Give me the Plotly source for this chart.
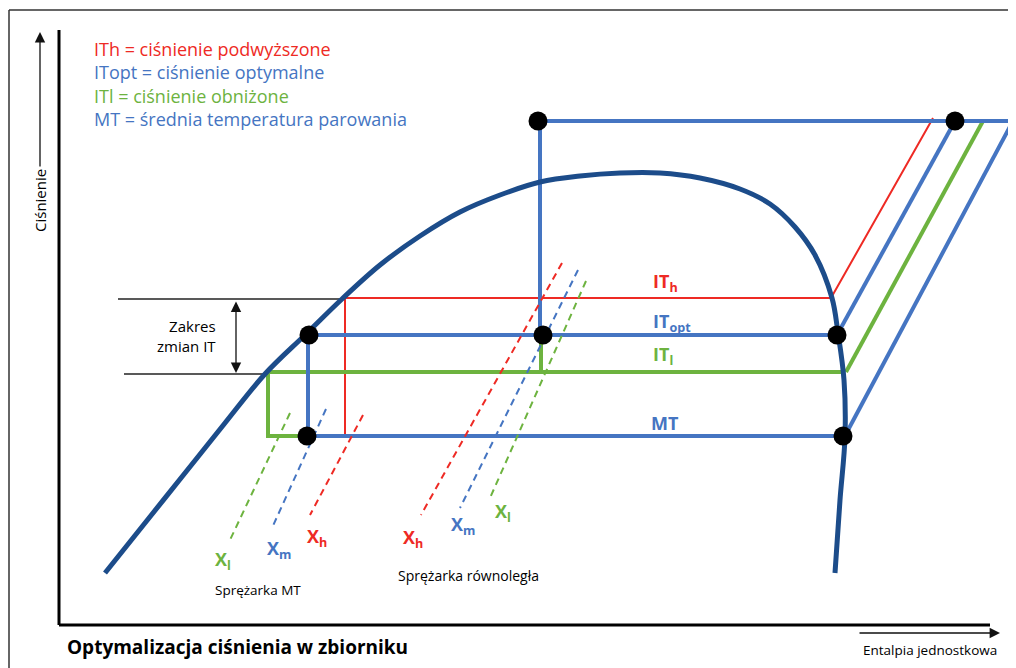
import plotly.graph_objects as go

# Schematic p-h diagram, unitless: enthalpy h (left -> right), pressure p (bottom -> top)

# saturation dome
dome_h = [105, 145, 185, 225, 265, 305, 342, 380, 420, 460, 500, 540, 580, 620, 660, 700, 740, 770, 795, 815, 832, 838, 844, 845, 840, 835]
dome_p = [95, 145, 195, 245, 294, 333, 369, 403, 432, 456, 473, 486, 492, 495, 495, 490, 479, 464, 441, 413, 370, 335, 288, 231, 168, 95]

# pressure levels
p_high = 547
p_ith = 370
p_itopt = 333
p_itl = 296
p_mt = 232

# enthalpy points of each level (left dome side, right dome side, end at p_high)
ith_h = [344, 831, 933]
itopt_h = [309, 837, 955]
itl_h = [266, 845, 983]
mt_h = [307, 844, 1013]
h_valve = 540          # vertical expansion line to the receiver
h_ith_drop = 345       # red vertical drop
h_itl_drop = 268       # green vertical drop

# state points (black dots)
dot_h = [538, 955, 309, 543, 837, 307, 843]
dot_p = [p_high, p_high, p_itopt, p_itopt, p_itopt, p_mt, p_mt]

# compressor dashed lines: (top, bottom)
mt_comp_h = {"l": [290, 230], "m": [326, 272], "h": [363, 310]}
mt_comp_p = {"l": [255, 128], "m": [259, 140], "h": [253, 153]}
par_comp_h = {"h": [562, 421], "m": [578, 460], "l": [586, 490]}
par_comp_p = {"h": [405, 153], "m": [398, 160], "l": [387, 170]}

# label positions for the compressor lines
mt_lab_h = {"l": 223, "m": 279, "h": 317}
mt_lab_p = {"l": 108, "m": 119, "h": 131}
par_lab_h = {"h": 413, "m": 463, "l": 503}
par_lab_p = {"h": 130, "m": 143, "l": 156}

legend_lines = [
    ("ITh = ciśnienie podwyższone", "red"),
    ("ITopt = ciśnienie optymalne", "blue"),
    ("ITl = ciśnienie obniżone", "green"),
    ("MT = średnia temperatura parowania", "blue"),
]

RED = "#ee2a24"
BLUE = "#4575c2"
GREEN = "#6db33f"
NAVY = "#1c4c8a"
col = {"red": RED, "blue": BLUE, "green": GREEN}
sub_col = {"h": RED, "m": BLUE, "l": GREEN}
FONT = "Open Sans"

fig = go.Figure()


def line(h, p, color, width, dash="solid", shape="linear"):
    fig.add_trace(go.Scatter(x=h, y=p, mode="lines", hoverinfo="skip",
                             line=dict(color=color, width=width, dash=dash, shape=shape)))


# helper black lines for "Zakres zmian IT"
line([118, ith_h[0]], [p_ith - 1, p_ith - 1], "#222", 1.3)
line([124, itl_h[0]], [p_itl - 2, p_itl - 2], "#222", 1.3)

# IT_h (red, thin)
line([h_ith_drop, h_ith_drop, ith_h[1], ith_h[2]], [p_mt - 1, p_ith, p_ith, p_high + 3], RED, 2)
line([ith_h[0], h_ith_drop], [p_ith, p_ith], RED, 2)

# IT_l (green)
line([mt_h[0], h_itl_drop, h_itl_drop, itl_h[1]], [p_mt, p_mt, p_itl, p_itl], GREEN, 4)
line([itl_h[1] + 1, itl_h[2]], [p_itl, p_high], GREEN, 4)
line([h_valve + 1, h_valve + 1], [p_itopt, p_itl], GREEN, 4)

# IT_opt and MT (blue)
line([itopt_h[0], itopt_h[1]], [p_itopt, p_itopt], BLUE, 4)
line([itopt_h[0] - 1, itopt_h[0] - 1], [p_itopt, p_mt], BLUE, 4)
line([itopt_h[1], itopt_h[2]], [p_itopt, p_high], BLUE, 4)
line([mt_h[0], mt_h[1]], [p_mt, p_mt], BLUE, 4)
line([mt_h[1] + 3, mt_h[2]], [p_mt + 4, p_high], BLUE, 4)
line([h_valve, h_valve, mt_h[2]], [p_itopt, p_high, p_high], BLUE, 4)

# compressor lines (dashed)
for k in ["l", "m", "h"]:
    line(mt_comp_h[k], mt_comp_p[k], sub_col[k], 2, dash="7px,5px")
    line(par_comp_h[k], par_comp_p[k], sub_col[k], 2, dash="7px,5px")

# saturation dome
line(dome_h, dome_p, NAVY, 5, shape="spline")

# state points
fig.add_trace(go.Scatter(x=dot_h, y=dot_p, mode="markers", hoverinfo="skip",
                         marker=dict(color="black", size=19)))

ann = []


def text(x, y, t, color="black", size=13, xanchor="center", bold=False, **kw):
    if bold:
        t = "<b>" + t + "</b>"
    ann.append(dict(x=x, y=y, text=t, showarrow=False, xanchor=xanchor, yanchor="middle",
                    font=dict(family=FONT, size=size, color=color), **kw))


# legend block, one multi-line text
legend_txt = "<br>".join('<span style="color:%s">%s</span>' % (col[c], t) for t, c in legend_lines)
text(92, 584, legend_txt, size=18, xanchor="left", align="left")

# level labels
text(665, 386, "IT<sub>h</sub>", RED, 18, bold=True)
text(672, 346, "IT<sub>opt</sub>", BLUE, 18, bold=True)
text(663, 313, "IT<sub>l</sub>", GREEN, 18, bold=True)
text(665, 245, "MT", BLUE, 18, bold=True)

for k in ["l", "m", "h"]:
    text(mt_lab_h[k], mt_lab_p[k], "X<sub>" + k + "</sub>", sub_col[k], 18, bold=True)
    text(par_lab_h[k], par_lab_p[k], "X<sub>" + k + "</sub>", sub_col[k], 18, bold=True)

text(258, 78, "Sprężarka MT", size=13.5)
text(468, 93, "Sprężarka równoległa", size=14)
text(218, 332, "Zakres<br>zmian IT", size=15, xanchor="right", align="right")

text(40, 467, "Ciśnienie", size=15, textangle=-90)
text(930, 18, "Entalpia jednostkowa", size=13.5)
text(65, 21, "Optymalizacja ciśnienia w zbiorniku", size=19, xanchor="left", bold=True)

# arrows
arrow = dict(showarrow=True, text="", axref="x", ayref="y", arrowhead=2,
             arrowcolor="#111", arrowwidth=1.3, arrowsize=1.6)
ann.append(dict(x=40, y=636, ax=40, ay=500, **arrow))
ann.append(dict(x=1000, y=35, ax=858, ay=35, **arrow))
ann.append(dict(x=236, y=p_itl - 1, ax=236, ay=p_ith - 2, arrowside="end+start", **arrow))

fig.update_layout(
    width=1016, height=668,
    margin=dict(l=0, r=0, t=0, b=0),
    plot_bgcolor="white", paper_bgcolor="white",
    showlegend=False,
    # ranges offset by the 8px page margin so the drawing lands where the reference has it
    xaxis=dict(range=[8, 1024], visible=False, fixedrange=True),
    yaxis=dict(range=[-8, 660], visible=False, fixedrange=True),
    annotations=ann,
    shapes=[
        # frame
        dict(type="line", x0=9, x1=1024, y0=658, y1=658, line=dict(color="#333", width=1.5)),
        dict(type="line", x0=9, x1=9, y0=-8, y1=658, line=dict(color="#333", width=1.5)),
        # axes
        dict(type="line", x0=59, x1=59, y0=43, y1=638, line=dict(color="black", width=3)),
        dict(type="line", x0=59, x1=990, y0=43, y1=43, line=dict(color="black", width=3)),
    ],
)

fig.write_html("out.html")
